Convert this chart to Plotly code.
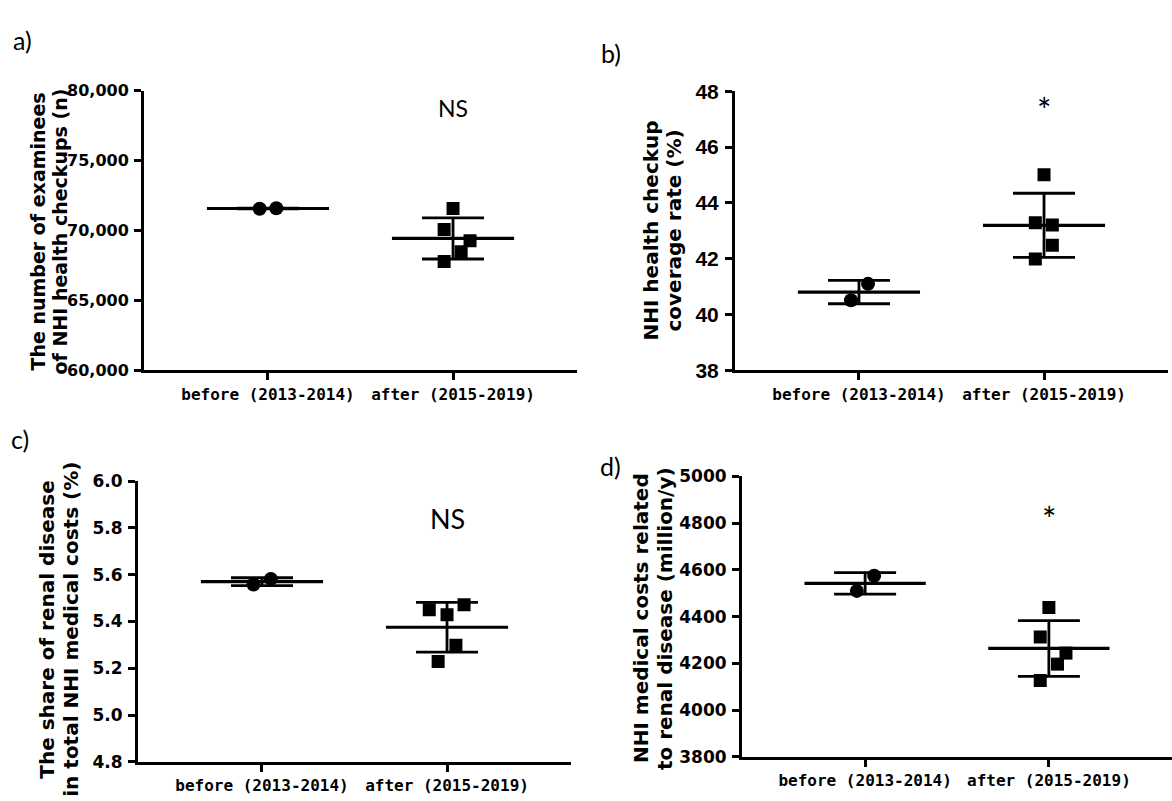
import numpy as np
import plotly.graph_objects as go

W, H = 1172, 801

groups = ["before (2013-2014)", "after (2015-2019)"]

# Panel a: number of examinees of NHI health checkups (n)
a_before = [71560, 71590]
a_after = [71580, 70070, 69270, 68490, 67780]
# Panel b: NHI health checkup coverage rate (%)
b_before = [41.10, 40.51]
b_after = [45.01, 43.29, 43.21, 42.48, 41.99]
# Panel c: share of renal disease in total NHI medical costs (%)
c_before = [5.558, 5.582]
c_after = [5.450, 5.429, 5.471, 5.298, 5.229]
# Panel d: NHI medical costs related to renal disease (million/y)
d_before = [4510, 4575]
d_after = [4439, 4313, 4244, 4197, 4127]

# horizontal scatter offsets of the points (style)
a_off = ([-0.045, 0.045], [0.0, -0.048, 0.092, 0.044, -0.048])
b_off = ([0.049, -0.043], [0.0, -0.047, 0.045, 0.045, -0.047])
c_off = ([-0.046, 0.048], [-0.096, 0.0, 0.092, 0.048, -0.048])
d_off = ([-0.045, 0.049], [0.0, -0.047, 0.093, 0.047, -0.047])

def px_x(p):
    return p / W

def px_y(p):
    return 1 - p / H

panels = [
    dict(key="a", before=a_before, after=a_after, off=a_off,
         xdom=[px_x(144), px_x(577)], ydom=[px_y(369), px_y(81)],
         yrange=[60000, 80000], dtick=5000, fmt=",",
         tfont=dict(family="DejaVu Sans", size=16, weight="bold"),
         sig="NS", sig_y=78740, sig_font=dict(family="Lato", size=23),
         sig_shift=0,
         t1="The number of examinees", t2="of NHI health checkups (n)",
         tx=(38, 60), ty=226, tsize=19,
         lab="a)", lab_xy=(22, 29)),
    dict(key="b", before=b_before, after=b_after, off=b_off,
         xdom=[px_x(735), px_x(1168)], ydom=[px_y(369), px_y(81.5)],
         yrange=[38, 48], dtick=2, fmt="d",
         tfont=dict(family="Liberation Sans", size=21, weight="bold"),
         sig="*", sig_y=47.62, sig_font=dict(family="Lato", size=34),
         sig_shift=-8,
         t1="NHI health checkup", t2="coverage rate (%)",
         tx=(651, 674), ty=225, tsize=20,
         lab="b)", lab_xy=(611, 42)),
    dict(key="c", before=c_before, after=c_after, off=c_off,
         xdom=[px_x(138), px_x(571)], ydom=[px_y(772), px_y(483)],
         yrange=[4.8, 6.0], dtick=0.2, fmt=".1f",
         tfont=dict(family="DejaVu Sans", size=17, weight="bold"),
         sig="NS", sig_y=5.84, sig_font=dict(family="Lato", size=27),
         sig_shift=0,
         t1="The share of renal disease", t2="in total NHI medical costs (%)",
         tx=(47, 71), ty=636, tsize=20,
         lab="c)", lab_xy=(20, 440)),
    dict(key="d", before=d_before, after=d_after, off=d_off,
         xdom=[px_x(742), 1.0], ydom=[px_y(767), px_y(478)],
         yrange=[3800, 5000], dtick=200, fmt="d",
         tfont=dict(family="DejaVu Sans", size=17, weight="bold"),
         sig="*", sig_y=4853, sig_font=dict(family="Lato", size=34),
         sig_shift=-8,
         t1="NHI medical costs related", t2="to renal disease (million/y)",
         tx=(641, 665), ty=624, tsize=20,
         lab="d)", lab_xy=(610, 467)),
]

fig = go.Figure()
annotations = []
layout = {}

MEAN_HALF = 0.33
CAP_PX = 31

for i, p in enumerate(panels):
    n = "" if i == 0 else str(i + 1)
    xref, yref = "x" + n, "y" + n
    for g, (vals, offs, sym, size) in enumerate([
            (p["before"], p["off"][0], "circle", 14),
            (p["after"], p["off"][1], "square", 13)]):
        m = float(np.mean(vals))
        sd = float(np.std(vals, ddof=1))
        # mean line
        fig.add_trace(go.Scatter(
            x=[g - MEAN_HALF, g + MEAN_HALF], y=[m, m], mode="lines",
            line=dict(color="black", width=3.2), xaxis=xref, yaxis=yref,
            showlegend=False, hoverinfo="skip"))
        # SD bar
        fig.add_trace(go.Scatter(
            x=[g], y=[m], mode="markers",
            marker=dict(size=1, color="rgba(0,0,0,0)"),
            error_y=dict(type="data", array=[sd], symmetric=True,
                         color="black", thickness=2.8, width=CAP_PX),
            xaxis=xref, yaxis=yref, showlegend=False, hoverinfo="skip"))
        # points
        fig.add_trace(go.Scatter(
            x=[g + o for o in offs], y=vals, mode="markers",
            marker=dict(symbol=sym, size=size, color="black",
                        line=dict(width=0)),
            xaxis=xref, yaxis=yref, showlegend=False))

    axis_common = dict(showline=True, linewidth=3, linecolor="black",
                       ticks="outside", ticklen=7, tickwidth=3,
                       tickcolor="black", showgrid=False, zeroline=False)
    layout["xaxis" + n] = dict(
        axis_common, domain=p["xdom"], range=[-0.67, 1.67],
        tickvals=[0, 1], ticktext=groups, anchor=yref,
        tickfont=dict(family="DejaVu Sans Mono", size=16, color="black",
                      weight="bold"),
        ticklabelstandoff=0)
    layout["yaxis" + n] = dict(
        axis_common, domain=p["ydom"], range=p["yrange"],
        dtick=p["dtick"], tick0=p["yrange"][0], tickformat=p["fmt"],
        anchor=xref, tickfont=dict(p["tfont"], color="black"),
        ticklabelstandoff=2)

    annotations.append(dict(
        x=1, y=p["sig_y"], xref=xref, yref=yref, text=p["sig"],
        showarrow=False, font=dict(p["sig_font"], color="black"),
        xanchor="center", yanchor="middle", yshift=p["sig_shift"]))
    for line_text, lx in zip((p["t1"], p["t2"]), p["tx"]):
        annotations.append(dict(
            x=px_x(lx), y=px_y(p["ty"]), xref="paper", yref="paper",
            text=line_text, textangle=-90, showarrow=False,
            font=dict(family="DejaVu Sans", size=p["tsize"], color="black",
                      weight="bold"),
            xanchor="center", yanchor="middle"))
    annotations.append(dict(
        x=px_x(p["lab_xy"][0]), y=px_y(p["lab_xy"][1]), xref="paper",
        yref="paper", text=p["lab"], showarrow=False,
        font=dict(family="Lato", size=25, color="black"),
        xanchor="center", yanchor="middle"))

fig.update_layout(
    width=W, height=H, margin=dict(l=0, r=0, t=0, b=0),
    paper_bgcolor="white", plot_bgcolor="white",
    annotations=annotations, **layout)

fig.write_html("out.html")
